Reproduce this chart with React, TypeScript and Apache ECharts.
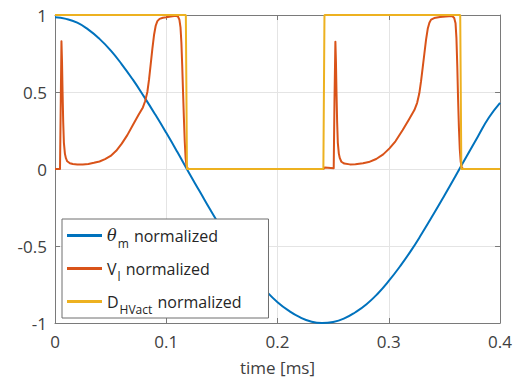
import React, { useEffect, useRef } from "react";
import * as echarts from "echarts";

const xTicks = [0, 0.1, 0.2, 0.3, 0.4];
const yTicks = [-1, -0.5, 0, 0.5, 1];

const thetaT = [0, 0.01, 0.02, 0.03, 0.04, 0.05, 0.06, 0.07, 0.08, 0.09, 0.1, 0.11, 0.12, 0.13, 0.14, 0.15, 0.16, 0.17, 0.18, 0.19, 0.2, 0.21, 0.22, 0.23, 0.24, 0.25, 0.26, 0.27, 0.28, 0.29, 0.3, 0.31, 0.32, 0.33, 0.34, 0.35, 0.36, 0.37, 0.38, 0.39, 0.4];
const thetaV = [0.985, 0.975, 0.95, 0.905, 0.845, 0.77, 0.68, 0.58, 0.47, 0.355, 0.235, 0.11, -0.02, -0.145, -0.27, -0.39, -0.505, -0.61, -0.71, -0.795, -0.865, -0.92, -0.962, -0.99, -1.0, -0.993, -0.97, -0.93, -0.878, -0.81, -0.727, -0.633, -0.53, -0.416, -0.296, -0.172, -0.045, 0.083, 0.21, 0.334, 0.43];

const vT = [
  0, 0.0045, 0.0052, 0.0058, 0.0063, 0.0068, 0.0074, 0.008, 0.0089, 0.0098, 0.011, 0.0134, 0.016, 0.02, 0.025, 0.03, 0.035, 0.04, 0.045, 0.05, 0.055, 0.06, 0.065, 0.07, 0.075, 0.079, 0.081, 0.083, 0.0845, 0.086, 0.0875, 0.089, 0.0905, 0.092, 0.094, 0.097, 0.1, 0.104, 0.1086, 0.1105, 0.1118, 0.1128, 0.1136, 0.1143, 0.115, 0.1158, 0.1166, 0.1174, 0.1182, 0.1196,
  0.2412, 0.2425, 0.2505, 0.2512, 0.252, 0.2525, 0.253, 0.2536, 0.2542, 0.2551, 0.256, 0.2574, 0.26, 0.265, 0.27, 0.2768, 0.282, 0.2887, 0.295, 0.3006, 0.306, 0.3125, 0.318, 0.323, 0.3255, 0.3274, 0.329, 0.3305, 0.332, 0.3335, 0.335, 0.3365, 0.338, 0.3408, 0.346, 0.3512, 0.357, 0.3588, 0.36, 0.3608, 0.3616, 0.3623, 0.363, 0.3638, 0.3646, 0.3655, 0.367, 0.4,
];
const vV = [
  0, 0, 0.45, 0.83, 0.7, 0.5, 0.3, 0.17, 0.1, 0.07, 0.05, 0.037, 0.032, 0.03, 0.03, 0.033, 0.04, 0.049, 0.064, 0.085, 0.118, 0.165, 0.22, 0.285, 0.35, 0.4, 0.44, 0.5, 0.58, 0.68, 0.78, 0.87, 0.93, 0.96, 0.975, 0.982, 0.985, 0.99, 0.995, 0.99, 0.97, 0.92, 0.82, 0.68, 0.52, 0.34, 0.18, 0.07, 0.02, 0,
  0, 0.01, 0.005, 0.45, 0.827, 0.7, 0.5, 0.3, 0.17, 0.1, 0.07, 0.047, 0.035, 0.03, 0.031, 0.037, 0.045, 0.065, 0.095, 0.134, 0.18, 0.253, 0.32, 0.383, 0.43, 0.49, 0.57, 0.66, 0.75, 0.84, 0.91, 0.95, 0.97, 0.98, 0.987, 0.99, 0.993, 0.98, 0.946, 0.85, 0.66, 0.45, 0.275, 0.13, 0.05, 0.01, 0, 0,
];

const dT = [0, 0.1176, 0.1186, 0.2412, 0.2422, 0.3642, 0.3652, 0.4];
const dV = [1, 1, 0, 0, 1, 1, 0, 0];

const names = ["theta", "vl", "dhv"];
const colors = ["#0072BD", "#D95319", "#EDB120"];

const zip = (a: number[], b: number[]) => a.map((x, i) => [x, b[i]]);

export default function App() {
  const ref = useRef<HTMLDivElement>(null);
  useEffect(() => {
    if (!ref.current) return;
    const chart = echarts.init(ref.current, undefined, { renderer: "svg" });
    const font = "'Open Sans', 'Noto Sans', sans-serif";
    const axisCommon = {
      axisLine: { show: true, onZero: false, lineStyle: { color: "#7a7a7a", width: 1 } },
      axisTick: { show: true, inside: true, length: 5, lineStyle: { color: "#7a7a7a" } },
    };
    chart.setOption({
      animation: false,
      textStyle: { fontFamily: font },
      grid: { left: 55, right: 12, top: 15, bottom: 60, containLabel: false },
      xAxis: [
        {
          ...axisCommon,
          type: "value",
          min: xTicks[0],
          max: xTicks[xTicks.length - 1],
          interval: 0.1,
          name: "time [ms]",
          nameLocation: "middle",
          nameGap: 36,
          nameTextStyle: { fontSize: 17, color: "#404040", fontFamily: font },
          axisLabel: { fontSize: 17, color: "#404040", margin: 10, fontFamily: font },
          splitLine: { show: true, lineStyle: { color: "#e4e4e4", width: 1 } },
        },
        {
          ...axisCommon,
          type: "value",
          position: "top",
          min: xTicks[0],
          max: xTicks[xTicks.length - 1],
          interval: 0.1,
          axisLabel: { show: false },
          splitLine: { show: false },
        },
      ],
      yAxis: [
        {
          ...axisCommon,
          type: "value",
          min: yTicks[0],
          max: yTicks[yTicks.length - 1],
          interval: 0.5,
          axisLabel: { fontSize: 17, color: "#404040", margin: 8, fontFamily: font },
          splitLine: { show: true, lineStyle: { color: "#e4e4e4", width: 1 } },
        },
        {
          ...axisCommon,
          type: "value",
          position: "right",
          min: yTicks[0],
          max: yTicks[yTicks.length - 1],
          interval: 0.5,
          axisLabel: { show: false },
          splitLine: { show: false },
        },
      ],
      legend: {
        orient: "vertical",
        left: 62,
        top: 219,
        padding: [5, 27, 3, 5],
        itemGap: 8,
        itemWidth: 35,
        itemHeight: 3,
        icon: "rect",
        backgroundColor: "#ffffff",
        borderColor: "#6e6e6e",
        borderWidth: 1,
        borderRadius: 0,
        data: names,
        formatter: (n: string) => {
          if (n === "theta") return "{it|θ}{sub|m}{t| normalized}";
          if (n === "vl") return "{t|V}{sub|l}{t| normalized}";
          return "{t|D}{sub|HVact}{t| normalized}";
        },
        textStyle: {
          fontFamily: font,
          color: "#262626",
          rich: {
            t: { fontSize: 16, color: "#262626", fontFamily: font, lineHeight: 23, height: 23, verticalAlign: "top" },
            it: { fontSize: 16, fontStyle: "italic", color: "#262626", fontFamily: "'DejaVu Serif', serif", lineHeight: 23, height: 23, verticalAlign: "top" },
            sub: { fontSize: 12, color: "#262626", fontFamily: font, padding: [13, 1, 0, 1], lineHeight: 23, verticalAlign: "top" },
          },
        },
      },
      series: [
        {
          name: names[0],
          type: "line",
          data: zip(thetaT, thetaV),
          showSymbol: false,
          smooth: true,
          lineStyle: { color: colors[0], width: 2 },
          itemStyle: { color: colors[0] },
        },
        {
          name: names[1],
          type: "line",
          data: zip(vT, vV),
          showSymbol: false,
          lineStyle: { color: colors[1], width: 2, join: "round" },
          itemStyle: { color: colors[1] },
        },
        {
          name: names[2],
          type: "line",
          data: zip(dT, dV),
          showSymbol: false,
          lineStyle: { color: colors[2], width: 2 },
          itemStyle: { color: colors[2] },
        },
      ],
    });
    return () => chart.dispose();
  }, []);
  return <div ref={ref} style={{ width: 515, height: 383, position: "absolute", left: 0, top: 0 }} />;
}
